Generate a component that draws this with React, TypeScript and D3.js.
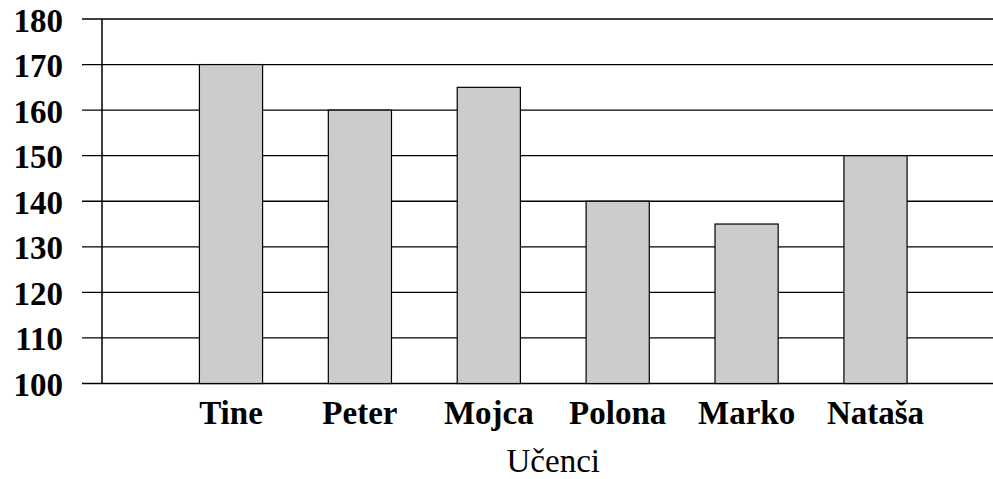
import React from "react";
import * as d3 from "d3";

const categories = ["Tine", "Peter", "Mojca", "Polona", "Marko", "Nataša"];
const values = [170, 160, 165, 140, 135, 150];
const yTicks = [100, 110, 120, 130, 140, 150, 160, 170, 180];
const xTitle = "Učenci";

const W = 993;
const H = 479;

export default function App() {
  const axisX = 102;
  const rightX = W;
  const step = 128.9;
  const firstCenter = 231;
  const y = d3.scaleLinear().domain([100, 180]).range([383.5, 19]);
  const x = d3
    .scaleBand<string>()
    .domain(categories)
    .range([firstCenter - step / 2, firstCenter - step / 2 + step * categories.length])
    .paddingInner(0.51)
    .paddingOuter(0.255);
  const bw = x.bandwidth();
  const serif = '"Liberation Serif", "DejaVu Serif", serif';
  const [r0, r1] = [x(categories[0])!, x(categories[categories.length - 1])! + bw];
  const textStyle = { fontFamily: serif } as React.CSSProperties;
  return (
    <svg
      width={W}
      height={H}
      style={{ position: "absolute", left: 0, top: 0, background: "#fff" }}
    >
      {yTicks.map((t) => (
        <line
          key={"g" + t}
          x1={82}
          x2={rightX}
          y1={y(t)}
          y2={y(t)}
          stroke="#000"
          strokeWidth={1.3}
        />
      ))}
      <line x1={axisX} x2={axisX} y1={y(180)} y2={y(100)} stroke="#000" strokeWidth={1.5} />
      {categories.map((c, i) => (
        <rect
          key={c}
          x={x(c)}
          y={y(values[i])}
          width={bw}
          height={y(100) - y(values[i])}
          fill="#cccccc"
          stroke="#000"
          strokeWidth={1.2}
        />
      ))}
      {yTicks.map((t) => (
        <text
          key={"t" + t}
          x={63}
          y={y(t)}
          dy="0.38em"
          textAnchor="end"
          style={textStyle}
          fontWeight="bold"
          fontSize={33}
          fill="#000"
        >
          {t}
        </text>
      ))}
      {categories.map((c) => (
        <text
          key={"l" + c}
          x={x(c)! + bw / 2}
          y={424}
          textAnchor="middle"
          style={textStyle}
          fontWeight="bold"
          fontSize={33}
          fill="#000"
        >
          {c}
        </text>
      ))}
      <text
        x={(r0 + r1) / 2}
        y={471.5}
        textAnchor="middle"
        style={textStyle}
        fontSize={33}
        fill="#000"
      >
        {xTitle}
      </text>
    </svg>
  );
}
